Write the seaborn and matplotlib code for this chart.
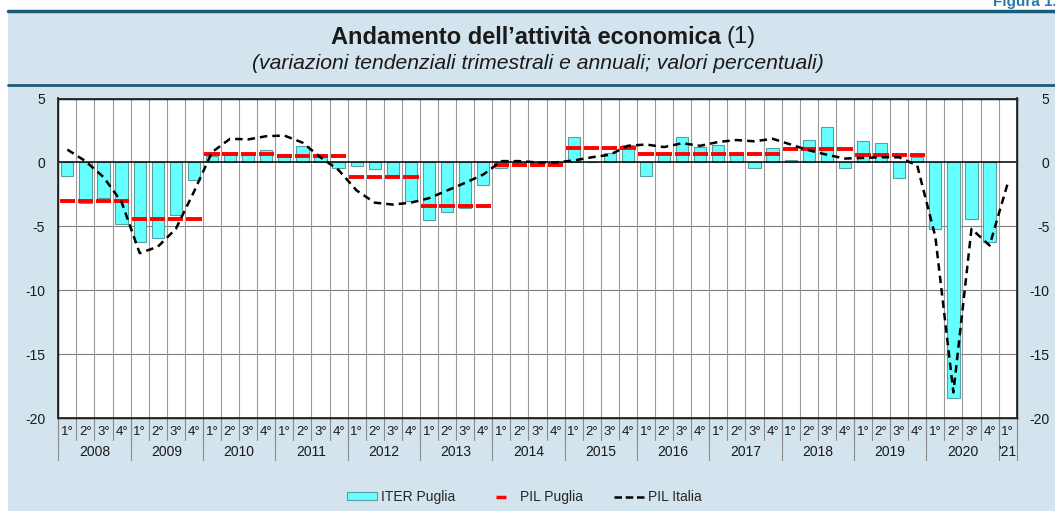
import numpy as np
import pandas as pd
import matplotlib
matplotlib.use("Agg")
import matplotlib.pyplot as plt
import matplotlib.transforms as mtransforms
from matplotlib.lines import Line2D
from matplotlib.patches import Patch, Rectangle
import seaborn as sns

# --- data ---
years = list(range(2008, 2022))
year_labels = [str(y) for y in years[:-1]] + ["'21"]
quarter_labels = ["1°", "2°", "3°", "4°"]
periods = [f"{y}Q{q}" for y in years for q in range(1, 5)][:53]

iter_puglia = [
    -1.1, -3.2, -2.75, -4.8,      # 2008
    -6.2, -5.95, -4.1, -1.35,     # 2009
    0.47, 0.6, 0.6, 1.0,          # 2010
    0.68, 1.3, 0.42, -0.42,       # 2011
    -0.3, -0.55, -0.95, -3.0,     # 2012
    -4.5, -3.85, -3.6, -1.8,      # 2013
    -0.4, -0.2, -0.15, -0.1,      # 2014
    2.0, 0.05, 0.73, 1.38,        # 2015
    -1.1, 0.65, 2.0, 1.22,        # 2016
    1.38, 0.6, -0.42, 1.15,       # 2017
    0.2, 1.75, 2.75, -0.45,       # 2018
    1.65, 1.55, -1.2, 0.4,        # 2019
    -5.18, -18.4, -4.4, -6.25,    # 2020
]
pil_italia = [
    1.0, 0.1, -1.15, -3.1,
    -7.1, -6.6, -5.2, -2.3,
    0.8, 1.85, 1.8, 2.05,
    2.1, 1.55, 0.4, -0.6,
    -2.2, -3.15, -3.3, -3.15,
    -2.8, -2.2, -1.6, -0.95,
    0.1, 0.1, 0.0, 0.0,
    0.15, 0.4, 0.6, 1.3,
    1.4, 1.2, 1.5, 1.3,
    1.6, 1.75, 1.65, 1.85,
    1.4, 0.95, 0.6, 0.3,
    0.35, 0.4, 0.4, -0.25,
    -5.8, -18.0, -5.2, -6.5,
    -1.65,
]
pil_puglia = [-3.0, -4.4, 0.68, 0.52, -1.17, -3.45, -0.18, 1.1, 0.68, 0.68, 1.07, 0.6]

sns.set_theme(style="white")
plt.rcParams["font.family"] = ["Liberation Sans", "DejaVu Sans"]
plt.rcParams["axes.unicode_minus"] = False

BG = "#d3e4ee"
HEAD = "#1d5b7a"
W, H = 1055, 511

fig = plt.figure(figsize=(W / 100, H / 100), dpi=100)
fig.patch.set_facecolor("white")
fig.add_artist(Rectangle((8 / W, 0), 1, 1 - 11 / H, transform=fig.transFigure,
                         facecolor=BG, edgecolor="none", zorder=-10))
fig.add_artist(Line2D([8 / W, 1], [1 - 11 / H] * 2, color=HEAD, lw=2.5))
fig.add_artist(Line2D([8 / W, 1], [1 - 85 / H] * 2, color=HEAD, lw=2))
fig.text(1.002, 1 - 6 / H, "Figura 1.", ha="right", va="baseline", fontsize=11,
         fontweight="bold", color="#2a7aa5")
fig.text(721 / W, 1 - 37 / H, "Andamento dell’attività economica", ha="right", va="center",
         fontsize=17, fontweight="bold", color="#1a1a1a")
fig.text(727 / W, 1 - 37 / H, "(1)", ha="left", va="center", fontsize=17, color="#1a1a1a")
fig.text(538 / W, 1 - 63 / H, "(variazioni tendenziali trimestrali e annuali; valori percentuali)",
         ha="center", va="center", fontsize=15.2, style="italic", color="#1a1a1a")

left, right, top, bottom = 58.3, 1016.7, 98.5, 418
ax = fig.add_axes([left / W, 1 - bottom / H, (right - left) / W, (bottom - top) / H])
ax.set_facecolor("white")

# grid
for v in [-5, -10, -15]:
    ax.axhline(v, color="#7f7f7f", lw=0.8, zorder=1)
for b in np.arange(0.5, 52.5):
    ax.axvline(b, color="#9a9a9a", lw=0.8, zorder=1)

df = pd.DataFrame({"periodo": periods[:52], "valore": iter_puglia})
sns.barplot(data=df, x="periodo", y="valore", order=periods, color="#66ffff", saturation=1,
            edgecolor="#5a9e9e", linewidth=0.8, width=0.68, errorbar=None, ax=ax, zorder=2)

ax.axhline(0, color="black", lw=1.1, zorder=2.5)

xs = np.arange(48)
ax.hlines(np.repeat(pil_puglia, 4), xs - 0.42, xs + 0.42, colors="#ff0000", linewidth=2.8, zorder=3)

sns.lineplot(x=np.arange(53), y=pil_italia, color="black", linewidth=1.8,
             linestyle=(0, (3, 2)), ax=ax, zorder=4)

ax.set_xlim(-0.5, 52.5)
ax.set_ylim(-20, 5)
ax.set_yticks([5, 0, -5, -10, -15, -20])
ax.set_xticks([])
ax.set_xlabel("")
ax.set_ylabel("")
ax.tick_params(axis="y", length=0, pad=9.4, labelsize=10, labelcolor="#1a1a1a")
for s in ax.spines.values():
    s.set_color("black")
    s.set_linewidth(1)

ax2 = ax.twinx()
ax2.set_ylim(-20, 5)
ax2.set_yticks([5, 0, -5, -10, -15, -20])
ax2.tick_params(axis="y", length=0, pad=23.5, labelsize=10, labelcolor="#1a1a1a")
for t in ax2.get_yticklabels():
    t.set_ha("right")
ax2.grid(False)

# category axis below the plot
trans = mtransforms.blended_transform_factory(ax.transData, ax.transAxes)
for i in range(53):
    ax.text(i, -0.044, quarter_labels[i % 4], transform=trans, ha="center", va="center",
            fontsize=9.5, color="#1a1a1a")
for b in np.arange(-0.5, 53):
    ax.plot([b, b], [0, -0.069], transform=trans, clip_on=False, color="#8a8a8a", lw=0.8)
for b in list(np.arange(-0.5, 52, 4)) + [52.5]:
    ax.plot([b, b], [0, -0.131], transform=trans, clip_on=False, color="#8a8a8a", lw=0.8)
for k, lab in enumerate(year_labels):
    xc = 4 * k + 1.5 if k < 13 else 52
    ax.text(xc, -0.106, lab, transform=trans, ha="center", va="center", fontsize=10,
            color="#1a1a1a")

handles = [
    Patch(facecolor="#66ffff", edgecolor="#5a9e9e", linewidth=0.8),
    Line2D([], [], color="#ff0000", marker="_", linestyle="None", markersize=7, markeredgewidth=2.5),
    Line2D([], [], color="black", linestyle=(0, (3, 1.5)), linewidth=1.8),
]
fig.legend(handles, ["ITER Puglia", "PIL Puglia", "PIL Italia"], loc="center",
           bbox_to_anchor=(0.497, 1 - 497 / H), ncol=3, frameon=False, fontsize=10,
           handlelength=2.16, handleheight=0.5, handletextpad=0.3, columnspacing=2.2)

fig.savefig("out.png", dpi=100)
